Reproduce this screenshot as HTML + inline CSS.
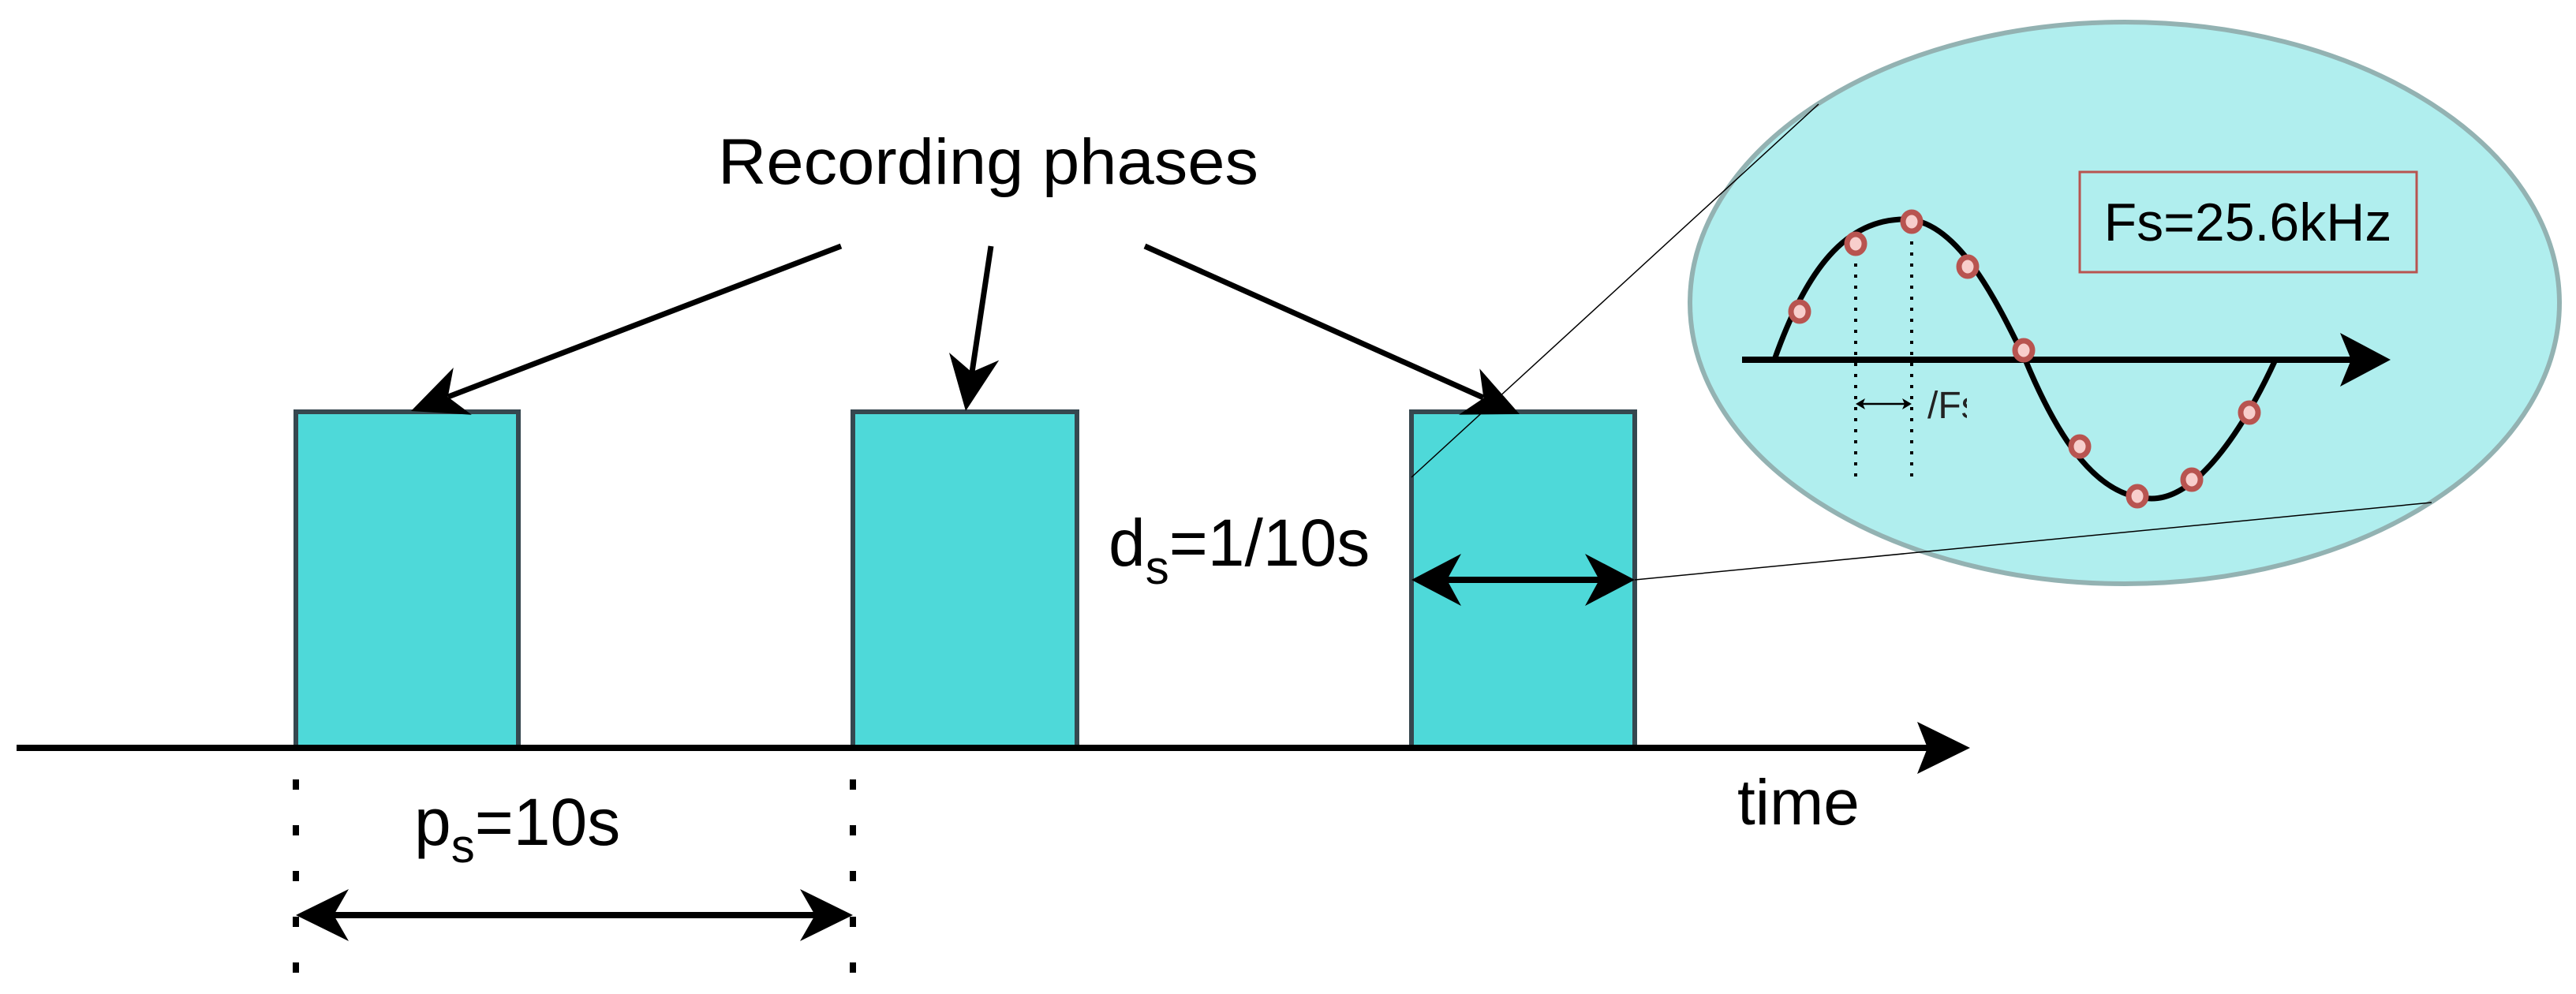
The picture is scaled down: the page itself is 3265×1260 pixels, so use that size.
<!DOCTYPE html>
<html><head><meta charset="utf-8"><style>html,body{margin:0;padding:0;background:#fff}svg{display:block}</style></head>
<body>
<svg width="3265" height="1260" viewBox="0 0 3265 1260" xmlns="http://www.w3.org/2000/svg" font-family="Liberation Sans, Arial, sans-serif">
<defs>
<clipPath id="fc"><rect x="2430" y="470" width="63" height="80"/></clipPath>
</defs>
<g fill="#4ED9D9" stroke="#36474f" stroke-width="6">
<rect x="375" y="522" width="282" height="427"/>
<rect x="1081" y="522" width="284" height="427"/>
<rect x="1789" y="522" width="283" height="427"/>
</g>
<line x1="21" y1="948" x2="2460" y2="948" stroke="#000" stroke-width="8"/>
<path d="M2497,948 L2430,915 L2443,948 L2430,981 Z" fill="#000"/>
<text x="910" y="233" font-size="82" textLength="685" lengthAdjust="spacingAndGlyphs">Recording phases</text>
<g stroke="#000" stroke-width="7">
<line x1="1066" y1="312" x2="568" y2="503"/>
<line x1="1256" y1="312" x2="1232" y2="472"/>
<line x1="1451" y1="312" x2="1880" y2="504"/>
</g>
<g fill="#000">
<path d="M521,521 L597.8,525.8 L567.7,503.1 L574.8,466 Z"/>
<path d="M1224,521 L1266.2,456.6 L1231.6,471.6 L1203,447 Z"/>
<path d="M1926,525 L1849.1,525.6 L1880.4,504.6 L1875.3,467.2 Z"/>
</g>
<text x="1405" y="717" font-size="84">d<tspan font-size="60" dy="23">s</tspan><tspan dy="-23">=1/10s</tspan></text>
<line x1="1830" y1="735" x2="2030" y2="735" stroke="#000" stroke-width="8"/>
<path d="M1789,735 L1852,702 L1834,735 L1852,768 Z" fill="#000"/>
<path d="M2072,735 L2009,702 L2027,735 L2009,768 Z" fill="#000"/>
<text x="525" y="1071" font-size="84">p<tspan font-size="60" dy="22">s</tspan><tspan dy="-22">=10s</tspan></text>
<g stroke="#000" stroke-width="8" stroke-dasharray="13 45">
<line x1="375" y1="988" x2="375" y2="1235"/>
<line x1="1081" y1="988" x2="1081" y2="1235"/>
</g>
<line x1="420" y1="1160" x2="1036" y2="1160" stroke="#000" stroke-width="8"/>
<path d="M375,1160 L442,1127 L423,1160 L442,1193 Z" fill="#000"/>
<path d="M1081,1160 L1014,1127 L1033,1160 L1014,1193 Z" fill="#000"/>
<text x="2202" y="1045" font-size="82">time</text>
<ellipse cx="2693" cy="384" rx="551" ry="356" fill="#B0EEEE" stroke="#93B2B2" stroke-width="6"/>
<line x1="2305" y1="132" x2="1789" y2="605" stroke="#000" stroke-width="1.5"/>
<line x1="2072" y1="735" x2="3082" y2="637" stroke="#000" stroke-width="1.5"/>
<rect x="2636" y="218" width="427" height="127" fill="none" stroke="#B85450" stroke-width="3"/>
<text x="2849" y="305" font-size="68" text-anchor="middle">Fs=25.6kHz</text>
<line x1="2208" y1="456" x2="2980" y2="456" stroke="#000" stroke-width="8"/>
<path d="M3030,456 L2966,422 L2980,456 L2966,490 Z" fill="#000"/>
<path d="M2249,456 C2290,340 2340,278 2414,278 C2480,278 2530,380 2567,456 C2610,560 2660,632 2727,632 C2790,632 2850,530 2884,456" fill="none" stroke="#000" stroke-width="7"/>
<g stroke="#000" stroke-width="4" stroke-dasharray="4 10">
<line x1="2352" y1="320" x2="2352" y2="604"/>
<line x1="2423" y1="292" x2="2423" y2="604"/>
</g>
<line x1="2360" y1="512" x2="2415" y2="512" stroke="#000" stroke-width="2.5"/>
<path d="M2352,512 L2364,505 L2361,512 L2364,519 Z" fill="#000"/>
<path d="M2423,512 L2411,505 L2414,512 L2411,519 Z" fill="#000"/>
<text x="2443" y="530" font-size="48" fill="#222" clip-path="url(#fc)">/Fs</text>
<g fill="#F8CECC" stroke="#B85450" stroke-width="7">
<ellipse cx="2281" cy="395" rx="11" ry="12"/>
<ellipse cx="2352" cy="309" rx="11" ry="12"/>
<ellipse cx="2423" cy="281" rx="11" ry="12"/>
<ellipse cx="2494" cy="338" rx="11" ry="12"/>
<ellipse cx="2565" cy="444" rx="11" ry="12"/>
<ellipse cx="2636" cy="566" rx="11" ry="12"/>
<ellipse cx="2709" cy="629" rx="11" ry="12"/>
<ellipse cx="2778" cy="608" rx="11" ry="12"/>
<ellipse cx="2851" cy="523" rx="11" ry="12"/>
</g>
</svg>
</body></html>
